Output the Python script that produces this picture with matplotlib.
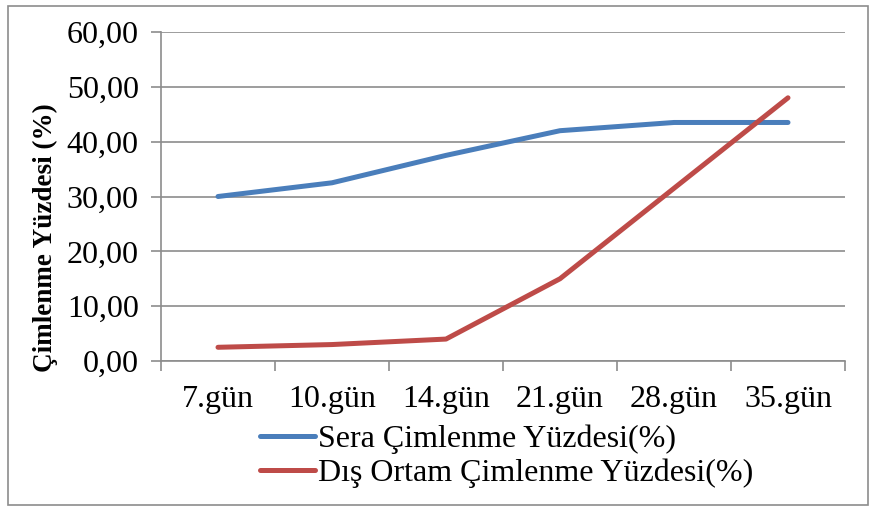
import matplotlib
matplotlib.use("Agg")
import matplotlib.pyplot as plt
from matplotlib.patches import Rectangle
from matplotlib.lines import Line2D

categories = ["7.gün", "10.gün", "14.gün", "21.gün", "28.gün", "35.gün"]
sera = [30.0, 32.5, 37.5, 42.0, 43.5, 43.5]
dis = [2.5, 3.0, 4.0, 15.0, 31.5, 48.0]
series_names = ["Sera Çimlenme Yüzdesi(%)", "Dış Ortam Çimlenme Yüzdesi(%)"]
y_ticks = [0, 10, 20, 30, 40, 50, 60]
y_label = "Çimlenme Yüzdesi (%)"

plt.rcParams['font.family'] = ['Liberation Serif', 'DejaVu Serif']

W, H = 875, 507
fig = plt.figure(figsize=(W / 100, H / 100), dpi=100)
fig.patch.set_facecolor('white')

# outer border
fig.add_artist(Rectangle((8 / W, 1 - 505 / H), (868 - 8) / W, (505 - 6) / H,
                         transform=fig.transFigure, fill=False,
                         edgecolor='#8c8c8c', linewidth=1.2))

ax = fig.add_axes([161 / W, 1 - 361 / H, (845 - 161) / W, (361 - 32) / H])
x = list(range(len(categories)))
blue = '#4A7EBB'
red = '#BE4B48'
ax.plot(x, sera, color=blue, linewidth=3.6, solid_capstyle='round', zorder=3)
ax.plot(x, dis, color=red, linewidth=3.6, solid_capstyle='round', zorder=3)

ax.set_xlim(-0.5, len(categories) - 0.5)
ax.set_ylim(0, 60)
ax.set_yticks(y_ticks)
ax.set_yticklabels([f"{v:.2f}".replace('.', ',') for v in y_ticks], fontsize=23)
ax.yaxis.grid(True, color='#8c8c8c', linewidth=1.2)
ax.set_axisbelow(True)

ax.set_xticks([i - 0.5 for i in range(len(categories) + 1)])
ax.set_xticklabels([])
ax.set_xticks(x, minor=True)
ax.set_xticklabels(categories, minor=True, fontsize=23)
ax.tick_params(axis='x', which='minor', length=0, pad=17)
ax.tick_params(axis='x', which='major', length=7, width=1.2, color='#8c8c8c', direction='out')
ax.tick_params(axis='y', length=7, width=1.2, color='#8c8c8c', direction='out', pad=9)

for s in ['top', 'right']:
    ax.spines[s].set_visible(False)
for s in ['left', 'bottom']:
    ax.spines[s].set_color('#8c8c8c')
    ax.spines[s].set_linewidth(1.2)

fig.text(45 / W, 1 - 238 / H, y_label, rotation=90, fontsize=19.5, fontweight='bold',
         ha='center', va='center')

handles = [Line2D([], [], color=blue, linewidth=3.6, solid_capstyle='round'),
           Line2D([], [], color=red, linewidth=3.6, solid_capstyle='round')]
fig.legend(handles, series_names, loc='upper left',
           bbox_to_anchor=(260 / W, 1 - 425 / H), frameon=False, fontsize=23,
           handlelength=1.72, handletextpad=0.1, labelspacing=0.14,
           borderaxespad=0, borderpad=0)

fig.savefig('out.png', dpi=100, facecolor='white')
